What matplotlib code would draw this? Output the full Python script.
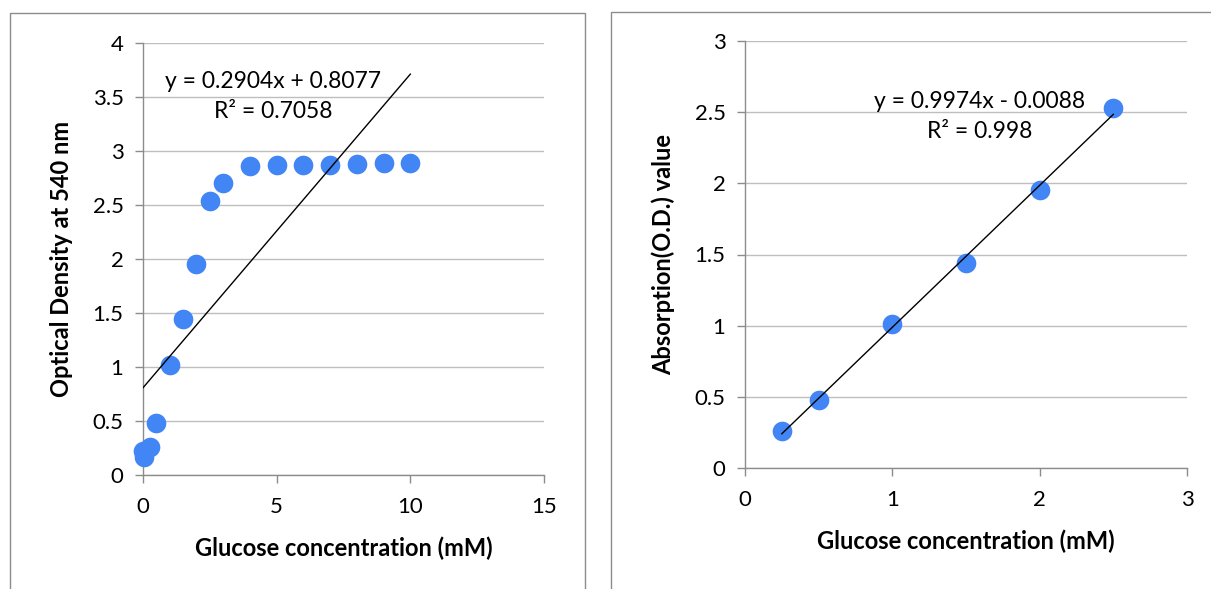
import matplotlib
matplotlib.use('Agg')
import matplotlib.pyplot as plt
from matplotlib.patches import Rectangle
import numpy as np

plt.rcParams['font.family'] = ['Lato', 'DejaVu Sans']

# left chart: full glucose range
glc_full = [0, 0.05, 0.25, 0.5, 1, 1.5, 2, 2.5, 3, 4, 5, 6, 7, 8, 9, 10]
od_full = [0.22, 0.17, 0.26, 0.48, 1.02, 1.44, 1.95, 2.54, 2.70, 2.86, 2.87, 2.875, 2.875, 2.88, 2.885, 2.885]
fit_full = (0.2904, 0.8077)
eq_full = ["y = 0.2904x + 0.8077", "R² = 0.7058"]

# right chart: linear range
glc_lin = [0.25, 0.5, 1, 1.5, 2, 2.5]
od_lin = [0.26, 0.48, 1.01, 1.44, 1.95, 2.53]
fit_lin = (0.9974, -0.0088)
eq_lin = ["y = 0.9974x - 0.0088", "R² = 0.998"]

blue = '#4285F4'
grid_c = '#BEBEBE'
W, H = 1211, 589
tick_fs = 16
lab_fs = 17
eq_fs = 16.5

fig = plt.figure(figsize=(W / 100, H / 100), dpi=100)

# chart frames
fig.patches.append(Rectangle((10 / W, -0.05), 575 / W, 1.05 - 13 / H, transform=fig.transFigure,
                             fill=False, edgecolor='#8C8C8C', linewidth=1))
fig.patches.append(Rectangle((611 / W, -0.05), 0.6, 1.05 - 12 / H, transform=fig.transFigure,
                             fill=False, edgecolor='#8C8C8C', linewidth=1))


def style(ax, xlim, ylim, xticks, yticks):
    ax.set_xlim(*xlim)
    ax.set_ylim(*ylim)
    ax.set_xticks(xticks)
    ax.set_yticks(yticks)
    ax.set_yticklabels([f"{t:g}" for t in yticks])
    ax.set_xticklabels([f"{t:g}" for t in xticks])
    for s in ['top', 'right']:
        ax.spines[s].set_visible(False)
    for s in ['left', 'bottom']:
        ax.spines[s].set_color('#8C8C8C')
        ax.spines[s].set_linewidth(1)
    ax.tick_params(axis='both', colors='#8C8C8C', labelcolor='black', labelsize=tick_fs,
                   length=6, width=1, direction='out')
    ax.tick_params(axis='y', pad=8)
    ax.tick_params(axis='x', pad=10)
    ax.yaxis.grid(True, color=grid_c, linewidth=1)
    ax.set_axisbelow(True)


# left chart
ax1 = fig.add_axes([143 / W, 1 - 475 / H, 401 / W, 432 / H])
style(ax1, (0, 15), (0, 4), [0, 5, 10, 15], [0, 0.5, 1, 1.5, 2, 2.5, 3, 3.5, 4])
ax1.scatter(glc_full, od_full, s=200, color=blue, zorder=3, clip_on=False, linewidths=0)
xf = np.array([0, max(glc_full)])
ax1.plot(xf, fit_full[0] * xf + fit_full[1], color='black', linewidth=1, zorder=4)
ax1.set_xlabel("Glucose concentration (mM)", fontsize=lab_fs, fontweight='bold', labelpad=14)
ax1.set_ylabel("Optical Density at 540 nm", fontsize=lab_fs, fontweight='bold', labelpad=14)
ax1.text(273 / W, 1 - 82 / H, eq_full[0], transform=fig.transFigure, fontsize=eq_fs, ha='center', va='center')
ax1.text(273 / W, 1 - 112 / H, eq_full[1], transform=fig.transFigure, fontsize=eq_fs, ha='center', va='center')

# right chart
ax2 = fig.add_axes([745 / W, 1 - 468 / H, 442 / W, 427 / H])
style(ax2, (0, 3), (0, 3), [0, 1, 2, 3], [0, 0.5, 1, 1.5, 2, 2.5, 3])
ax2.scatter(glc_lin, od_lin, s=200, color=blue, zorder=3, clip_on=False, linewidths=0)
xl = np.array([min(glc_lin), max(glc_lin)])
ax2.plot(xl, fit_lin[0] * xl + fit_lin[1], color='black', linewidth=1, zorder=4)
ax2.set_xlabel("Glucose concentration (mM)", fontsize=lab_fs, fontweight='bold', labelpad=14)
ax2.set_ylabel("Absorption(O.D.) value", fontsize=lab_fs, fontweight='bold', labelpad=14)
ax2.text(980 / W, 1 - 101 / H, eq_lin[0], transform=fig.transFigure, fontsize=eq_fs, ha='center', va='center')
ax2.text(980 / W, 1 - 131 / H, eq_lin[1], transform=fig.transFigure, fontsize=eq_fs, ha='center', va='center')

fig.savefig("out.png", dpi=100)
